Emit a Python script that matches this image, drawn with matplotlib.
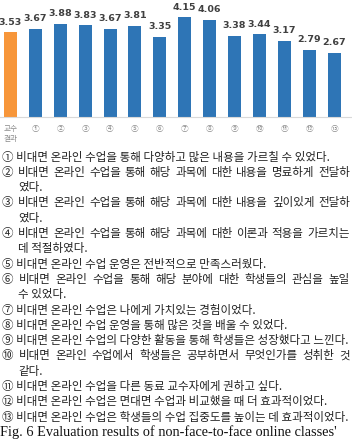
import matplotlib
matplotlib.use('Agg')
import matplotlib.pyplot as plt
import numpy as np

plt.rcParams['font.family'] = ['Noto Sans CJK KR', 'DejaVu Sans']

categories = ['교수\n결과', '①', '②', '③', '④', '⑤', '⑥', '⑦', '⑧', '⑨', '⑩', '⑪', '⑫', '⑬']
scores = [3.53, 3.67, 3.88, 3.83, 3.67, 3.81, 3.35, 4.15, 4.06, 3.38, 3.44, 3.17, 2.79, 2.67]
bar_colors = ['#F7963A'] + ['#2E75B6'] * 13

# (text, continuation line?, justified?)
text_lines = [
    ("① 비대면 온라인 수업을 통해 다양하고 많은 내용을 가르칠 수 있었다.", False, False),
    ("② 비대면 온라인 수업을 통해 해당 과목에 대한 내용을 명료하게 전달하", False, True),
    ("였다.", True, False),
    ("③ 비대면 온라인 수업을 통해 해당 과목에 대한 내용을 깊이있게 전달하", False, True),
    ("였다.", True, False),
    ("④ 비대면 온라인 수업을 통해 해당 과목에 대한 이론과 적용을 가르치는", False, True),
    ("데 적절하였다.", True, False),
    ("⑤ 비대면 온라인 수업 운영은 전반적으로 만족스러웠다.", False, False),
    ("⑥ 비대면 온라인 수업을 통해 해당 분야에 대한 학생들의 관심을 높일", False, True),
    ("수 있었다.", True, False),
    ("⑦ 비대면 온라인 수업은 나에게 가치있는 경험이었다.", False, False),
    ("⑧ 비대면 온라인 수업 운영을 통해 많은 것을 배울 수 있었다.", False, False),
    ("⑨ 비대면 온라인 수업의 다양한 활동을 통해 학생들은 성장했다고 느낀다.", False, False),
    ("⑩ 비대면 온라인 수업에서 학생들은 공부하면서 무엇인가를 성취한 것", False, True),
    ("같다.", True, False),
    ("⑪ 비대면 온라인 수업을 다른 동료 교수자에게 권하고 싶다.", False, False),
    ("⑫ 비대면 온라인 수업은 면대면 수업과 비교했을 때 더 효과적이었다.", False, False),
    ("⑬ 비대면 온라인 수업은 학생들의 수업 집중도를 높이는 데 효과적이었다.", False, False),
]
caption = "Fig. 6 Evaluation results of non-face-to-face online classes'"

W, H = 352, 440
fig = plt.figure(figsize=(W / 100, H / 100), dpi=100)
ax = fig.add_axes([0, 1 - 117 / H, 1, 117 / H])

x = np.arange(len(categories))
bars = ax.bar(x, scores, width=0.52, color=bar_colors)
ax.bar_label(bars, labels=[f'{v:.2f}' for v in scores], padding=4,
             fontsize=6.8, fontweight='bold', color='#404040',
             family=['Liberation Sans Narrow', 'DejaVu Sans'])

ax.set_xlim(-0.42, 13.72)
ax.set_ylim(0, 4.875)
ax.set_xticks(x)
ax.set_xticklabels(categories, fontsize=5.5, color='#8a8a8a', va='top', linespacing=1.3)
ax.tick_params(axis='x', length=0, pad=6)
ax.set_yticks([])
for s in ['top', 'left', 'right']:
    ax.spines[s].set_visible(False)
ax.spines['bottom'].set_color('#d9d9d9')
ax.spines['bottom'].set_linewidth(0.8)

# statement list below the chart, justified like the paper
renderer = fig.canvas.get_renderer()
left, cont_left, right = 2, 18, 350
y0, step = 157, 15.3
fs = 8.3
for i, (line, cont, justify) in enumerate(text_lines):
    yy = 1 - (y0 + i * step) / H
    x0 = cont_left if cont else left
    if not justify:
        fig.text(x0 / W, yy, line, fontsize=fs, color='#222222', va='center')
        continue
    words = line.split(' ')
    objs = [fig.text(0, yy, w, fontsize=fs, color='#222222', va='center') for w in words]
    widths = [o.get_window_extent(renderer).width for o in objs]
    gap = (right - x0 - sum(widths)) / (len(words) - 1)
    px = x0
    for o, w in zip(objs, widths):
        o.set_x(px / W)
        px += w + gap

fig.text(0, 1 - 436 / H, caption, fontsize=10.3, va='baseline', color='#111111',
         family=['Liberation Serif', 'DejaVu Serif'])

fig.savefig('out.png', dpi=100)
